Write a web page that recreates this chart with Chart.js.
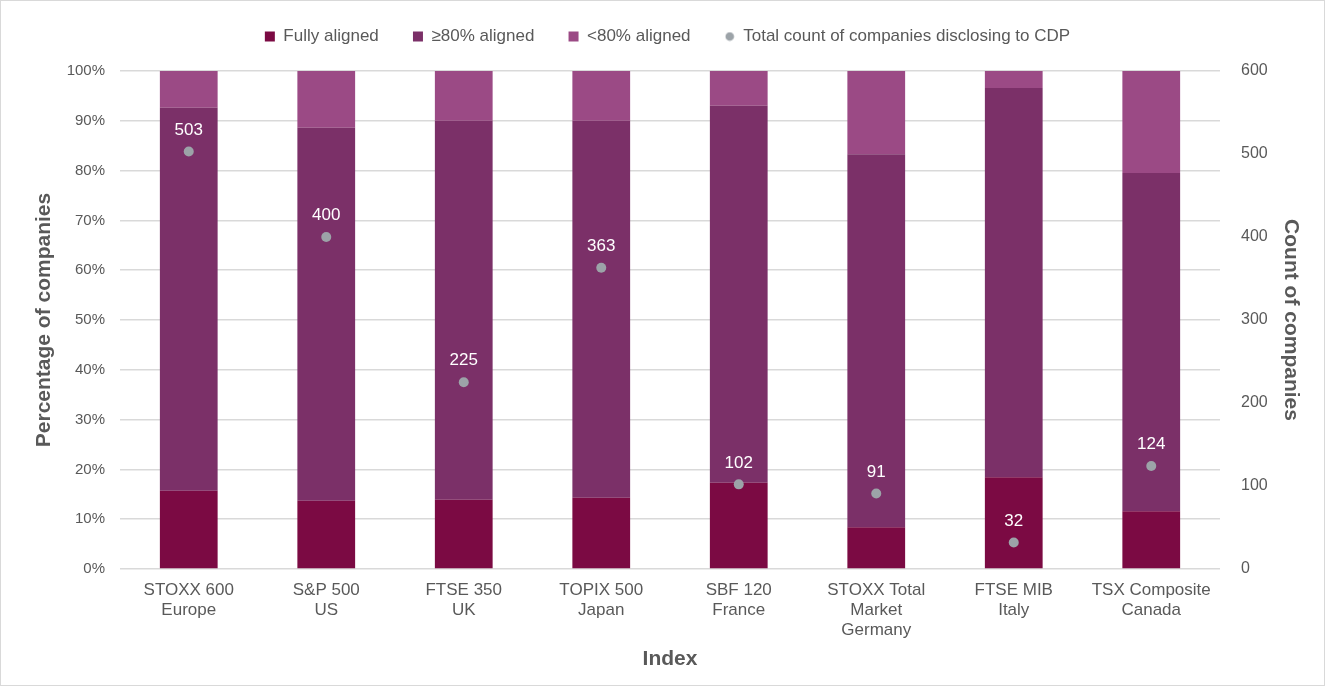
<!DOCTYPE html>
<html>
<head>
<meta charset="utf-8">
<script src="https://cdn.jsdelivr.net/npm/chart.js@4"></script>
<style>
  html, body { margin: 0; padding: 0; background: #fff; }
  #wrap { width: 1325px; height: 686px; position: relative; box-sizing: border-box; border: 1px solid #d9d9d9; }
</style>
</head>
<body>
<div id="wrap"><canvas id="chart"></canvas></div>
<script>
// categories (multi-line tick labels)
const indexLabels = [
  ['STOXX 600', 'Europe'], ['S&P 500', 'US'], ['FTSE 350', 'UK'], ['TOPIX 500', 'Japan'],
  ['SBF 120', 'France'], ['STOXX Total', 'Market', 'Germany'], ['FTSE MIB', 'Italy'], ['TSX Composite', 'Canada']
];

// share of companies, %
const fullyAligned = [15.7, 13.7, 13.9, 14.3, 17.3, 8.4, 18.4, 11.6];
const above80Aligned = [76.9, 74.9, 76.1, 75.7, 75.7, 74.9, 78.2, 67.9];
const below80Aligned = [7.4, 11.4, 10.0, 10.0, 7.0, 16.7, 3.4, 20.5];

// number of companies disclosing to CDP
const companyCount = [503, 400, 225, 363, 102, 91, 32, 124];

const txt = '#595959';
const dotColor = '#9ca3a8';
Chart.defaults.font.family = '"Liberation Sans", Arial, sans-serif';
Chart.defaults.color = txt;

// small round marker for the legend
const legendDot = document.createElement('canvas');
legendDot.width = 10; legendDot.height = 10;
const dctx = legendDot.getContext('2d');
dctx.fillStyle = dotColor;
dctx.beginPath(); dctx.arc(5, 5, 4.3, 0, Math.PI * 2); dctx.fill();

// white count labels above the grey dots
const countLabels = {
  id: 'countLabels',
  afterDatasetsDraw(chart) {
    const ctx = chart.ctx;
    const meta = chart.getDatasetMeta(3);
    ctx.save();
    ctx.fillStyle = '#ffffff';
    ctx.font = '17px "Liberation Sans", Arial, sans-serif';
    ctx.textAlign = 'center';
    ctx.textBaseline = 'bottom';
    meta.data.forEach((pt, i) => {
      ctx.fillText(companyCount[i], pt.x, pt.y - 13);
    });
    ctx.restore();
  }
};

// extra gap under the legend
const legendGap = {
  id: 'legendGap',
  beforeInit(chart) {
    const fit = chart.legend.fit;
    chart.legend.fit = function () {
      fit.bind(chart.legend)();
      this.height += 16;
    };
  }
};

const chartCtx = document.querySelector('#chart').getContext('2d');

new Chart(chartCtx, {
  type: 'bar',
  data: {
    labels: indexLabels,
    datasets: [
      { label: 'Fully aligned', data: fullyAligned, backgroundColor: '#7b0a43', pointStyle: 'rect', order: 1, yAxisID: 'y' },
      { label: '≥80% aligned', data: above80Aligned, backgroundColor: '#7b3068', pointStyle: 'rect', order: 1, yAxisID: 'y' },
      { label: '<80% aligned', data: below80Aligned, backgroundColor: '#9b4a85', pointStyle: 'rect', order: 1, yAxisID: 'y' },
      {
        type: 'line',
        label: 'Total count of companies disclosing to CDP',
        data: companyCount,
        yAxisID: 'y2',
        showLine: false,
        pointStyle: 'circle',
        pointRadius: 5,
        pointBackgroundColor: dotColor,
        pointBorderWidth: 0,
        backgroundColor: dotColor,
        borderColor: dotColor,
        order: 0
      }
    ]
  },
  options: {
    responsive: true,
    maintainAspectRatio: false,
    animation: false,
    datasets: { bar: { categoryPercentage: 1, barPercentage: 0.42 } },
    layout: { padding: { left: 33, right: 23, top: 7, bottom: 11 } },
    plugins: {
      tooltip: { enabled: false },
      legend: {
        position: 'top',
        labels: {
          usePointStyle: true,
          boxWidth: 10,
          boxHeight: 10,
          padding: 20,
          color: txt,
          font: { size: 17 },
          sort: (a, b) => a.datasetIndex - b.datasetIndex,
          generateLabels(chart) {
            const items = Chart.defaults.plugins.legend.labels.generateLabels(chart);
            items.forEach(it => {
              if (it.datasetIndex === 3) it.pointStyle = legendDot;
              else it.text = it.text + '   ';
            });
            return items;
          }
        }
      }
    },
    scales: {
      x: {
        stacked: true,
        grid: { display: false },
        border: { display: false },
        afterFit: s => { s.height = 105; },
        ticks: { color: txt, font: { size: 17, lineHeight: 1.15 }, maxRotation: 0, autoSkip: false, padding: 4 },
        title: { display: true, text: 'Index', color: txt, font: { size: 21, weight: 'bold', lineHeight: 1 }, padding: { top: 0 } }
      },
      y: {
        stacked: true,
        position: 'left',
        min: 0, max: 100,
        afterFit: s => { s.width = 86; },
        ticks: { stepSize: 10, color: txt, font: { size: 15 }, padding: 15, callback: v => v + '%' },
        grid: { color: '#d9d9d9', lineWidth: 1.5, drawTicks: false },
        border: { display: false },
        title: { display: true, text: 'Percentage of companies', color: txt, font: { size: 21, weight: 'bold', lineHeight: 1 }, padding: { top: 0, bottom: 10 } }
      },
      y2: {
        position: 'right',
        min: 0, max: 600,
        afterFit: s => { s.width = 81; },
        ticks: { stepSize: 100, color: txt, font: { size: 16 }, padding: 21 },
        grid: { display: false, drawTicks: false },
        border: { display: false },
        title: { display: true, text: 'Count of companies', color: txt, font: { size: 21, weight: 'bold', lineHeight: 1 }, padding: { top: 0, bottom: 0 } }
      }
    }
  },
  plugins: [countLabels, legendGap]
});
</script>
</body>
</html>
